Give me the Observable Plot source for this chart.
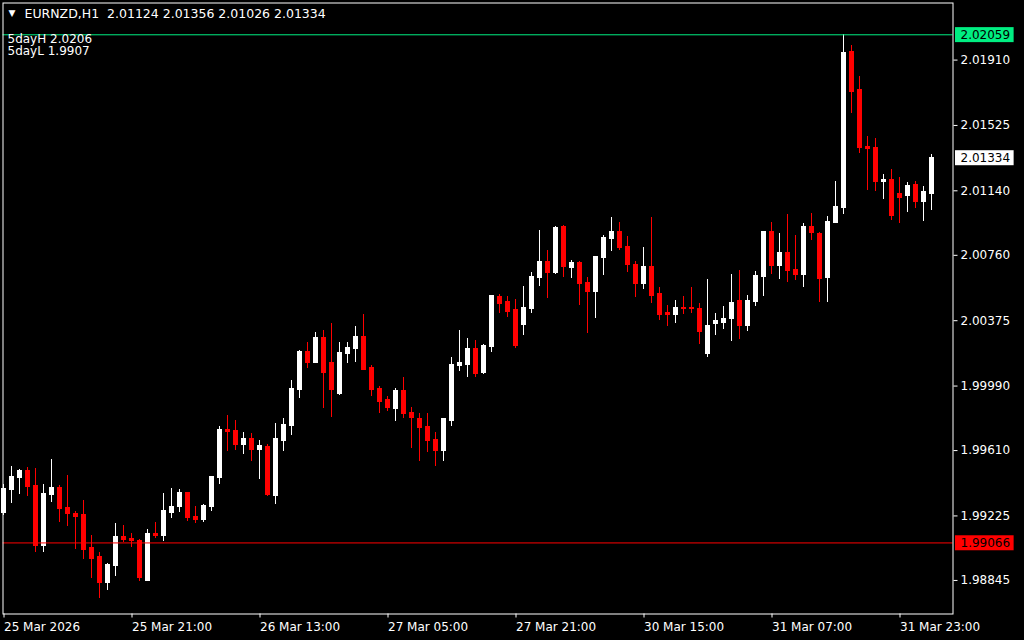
<!DOCTYPE html>
<html><head><meta charset="utf-8">
<script src="https://cdn.jsdelivr.net/npm/d3@7"></script>
<script src="https://cdn.jsdelivr.net/npm/@observablehq/plot@0.6"></script>
<style>html,body{margin:0;padding:0;background:#000;overflow:hidden}</style>
</head><body><div id="chart"></div>
<script>
const symbol = "EURNZD";
const timeframe = "H1";

const opens = [
1.99242,1.99378,1.99448,1.99490,1.99401,1.99048,1.99348,1.99390,1.99272,1.99236,
1.99231,1.99036,1.98983,1.98830,1.98930,1.99101,1.99089,1.99077,1.98842,1.99119,
1.99107,1.99242,1.99278,1.99360,1.99219,1.99201,1.99278,1.99448,1.99731,1.99725,
1.99643,1.99678,1.99613,1.99631,1.99342,1.99666,1.99755,1.99967,2.00191,2.00126,
2.00273,2.00126,1.99943,2.00179,2.00208,2.00279,2.00097,1.99973,1.99908,1.99855,
1.99961,1.99831,1.99796,1.99749,1.99672,1.99607,1.99784,2.00108,2.00114,2.00208,
2.00067,2.00220,2.00514,2.00485,2.00438,2.00350,2.00444,2.00626,2.00720,2.00656,
2.00927,2.00685,2.00714,2.00597,2.00544,2.00744,2.00856,2.00897,2.00809,2.00703,
2.00591,2.00691,2.00532,2.00420,2.00409,2.00450,2.00450,2.00444,2.00179,2.00356,
2.00361,2.00385,2.00491,2.00344,2.00485,2.00632,2.00897,2.00697,2.00774,2.00673,
2.00644,2.00927,2.00886,2.00626,2.00950,2.01039,2.01958,2.01734,2.01398,2.01392,
2.01192,2.01204,2.01121,2.01110,2.01174,2.01074,2.01124];
const highs = [
1.99413,1.99519,1.99496,1.99513,1.99507,1.99413,1.99560,1.99407,1.99466,1.99254,
1.99313,1.99107,1.99007,1.98942,1.99183,1.99166,1.99124,1.99089,1.99148,1.99189,
1.99360,1.99384,1.99378,1.99360,1.99278,1.99295,1.99460,1.99749,1.99814,1.99790,
1.99719,1.99713,1.99672,1.99643,1.99772,1.99796,2.00020,2.00202,2.00244,2.00308,
2.00320,2.00361,2.00244,2.00244,2.00338,2.00409,2.00114,1.99990,1.99931,1.99973,
2.00043,1.99861,1.99831,1.99831,1.99719,1.99796,2.00161,2.00320,2.00273,2.00261,
2.00232,2.00525,2.00532,2.00520,2.00497,2.00579,2.00656,2.00909,2.00791,2.00927,
2.00933,2.00732,2.00726,2.00632,2.00756,2.00874,2.00980,2.00956,2.00868,2.00726,
2.00809,2.00980,2.00573,2.00467,2.00491,2.00520,2.00573,2.00479,2.00620,2.00420,
2.00456,2.00650,2.00673,2.00526,2.00667,2.00903,2.00956,2.00886,2.01003,2.00874,
2.00945,2.01009,2.00897,2.00986,2.01192,2.02059,2.01993,2.01816,2.01457,2.01451,
2.01239,2.01268,2.01216,2.01186,2.01192,2.01163,2.01356];
const lows = [
1.99225,1.99301,1.99354,1.99342,1.99007,1.99007,1.99307,1.99189,1.99160,1.99030,
1.98971,1.98854,1.98736,1.98783,1.98866,1.99066,1.99042,1.98836,1.98836,1.99095,
1.99077,1.99207,1.99248,1.99195,1.99183,1.99189,1.99254,1.99413,1.99602,1.99613,
1.99584,1.99543,1.99442,1.99342,1.99295,1.99602,1.99696,1.99914,2.00091,2.00120,
1.99855,1.99802,1.99937,2.00120,2.00126,2.00080,1.99931,1.99831,1.99843,1.99784,
1.99796,1.99625,1.99548,1.99596,1.99519,1.99548,1.99749,2.00073,2.00043,2.00038,
2.00061,2.00185,2.00420,2.00391,2.00214,2.00285,2.00420,2.00579,2.00503,2.00650,
2.00632,2.00626,2.00462,2.00297,2.00386,2.00644,2.00785,2.00791,2.00656,2.00514,
2.00556,2.00479,2.00379,2.00338,2.00356,2.00409,2.00420,2.00232,2.00161,2.00285,
2.00326,2.00250,2.00267,2.00314,2.00456,2.00520,2.00650,2.00615,2.00597,2.00609,
2.00573,2.00850,2.00485,2.00485,2.00945,2.00998,2.01598,2.01357,2.01139,2.01133,
2.01086,2.00968,2.00945,2.01015,2.01033,2.00962,2.01026];
const closes = [
1.99384,1.99454,1.99490,1.99395,1.99048,1.99354,1.99390,1.99266,1.99236,1.99219,
1.99024,1.98971,1.98830,1.98936,1.99101,1.99083,1.99077,1.98860,1.99119,1.99107,
1.99254,1.99278,1.99360,1.99213,1.99201,1.99284,1.99454,1.99731,1.99719,1.99643,
1.99678,1.99613,1.99637,1.99348,1.99678,1.99761,1.99973,2.00191,2.00126,2.00273,
2.00067,1.99967,2.00185,2.00214,2.00279,2.00085,1.99967,1.99896,1.99861,1.99961,
1.99825,1.99802,1.99743,1.99666,1.99607,1.99796,2.00114,2.00126,2.00208,2.00061,
2.00226,2.00520,2.00473,2.00426,2.00226,2.00450,2.00632,2.00720,2.00656,2.00921,
2.00691,2.00714,2.00591,2.00544,2.00750,2.00862,2.00897,2.00803,2.00703,2.00591,
2.00691,2.00520,2.00409,2.00409,2.00450,2.00444,2.00444,2.00308,2.00344,2.00373,
2.00385,2.00479,2.00344,2.00491,2.00638,2.00897,2.00697,2.00774,2.00667,2.00644,
2.00927,2.00891,2.00620,2.00956,2.01045,2.01952,2.01722,2.01392,2.01386,2.01192,
2.01204,2.00992,2.01098,2.01169,2.01074,2.01133,2.01334];

const tickBars = [0, 16, 32, 48, 64, 80, 96, 112];
const tickLabels = ["25 Mar 2026","25 Mar 21:00","26 Mar 13:00","27 Mar 05:00","27 Mar 21:00","30 Mar 15:00","31 Mar 07:00","31 Mar 23:00"];
const priceTicks = [2.01910, 2.01525, 2.01140, 2.00760, 2.00375, 1.99990, 1.99610, 1.99225, 1.98845];
const fiveDayHigh = 2.02059;
const fiveDayLow = 1.99066;

const UP = "#ffffff", DOWN = "#ff0000", HIC = "#00ee82";
const candles = opens.map((o, i) => ({i, o, h: highs[i], l: lows[i], c: closes[i]}));
const last = candles[candles.length - 1];
const colorOf = d => d.c >= d.o ? UP : DOWN;
const markers = [
  {value: fiveDayHigh, bg: HIC, fg: "#000"},
  {value: last.c, bg: "#ffffff", fg: "#000"},
  {value: fiveDayLow, bg: DOWN, fg: "#000"}
];
const f5 = v => v.toFixed(5);
const header = `${symbol},${timeframe}\u00a0\u00a0${f5(last.o)} ${f5(last.h)} ${f5(last.l)} ${f5(last.c)}`;
const fiveDayText = `5dayH ${fiveDayHigh.toFixed(4)}\n5dayL ${fiveDayLow.toFixed(4)}`;

const chart = Plot.plot({
  width: 1024, height: 640,
  marginLeft: 2.5, marginRight: 71.5, marginTop: 2.5, marginBottom: 26.5,
  style: {background: "#000", color: "#fff", fontFamily: "DejaVu Sans", fontSize: "12px"},
  x: {type: "linear", domain: [-0.125, 118.625], axis: null, label: null},
  y: {type: "linear", domain: [1.986474, 2.022462], axis: null, label: null},
  marks: [
    Plot.ruleX(candles, {x: "i", y1: "l", y2: "h", stroke: colorOf, strokeWidth: 1, dx: -0.5,
      shapeRendering: "crispEdges"}),
    Plot.rect(candles, {x1: d => d.i - 0.3125, x2: d => d.i + 0.3125, y1: "o", y2: "c",
      fill: colorOf, insetTop: -0.5, insetBottom: -0.5, shapeRendering: "crispEdges"}),
    Plot.ruleY([fiveDayHigh], {stroke: HIC}),
    Plot.ruleY([fiveDayLow], {stroke: DOWN}),
    Plot.frame({stroke: "#fff"}),
    Plot.axisY(priceTicks, {anchor: "right", label: null, tickSize: 4, tickPadding: 3.5, tickFormat: f5}),
    Plot.axisX(tickBars, {anchor: "bottom", label: null, tickSize: 4, tickPadding: 4.5, textAnchor: "start",
      tickFormat: d => tickLabels[tickBars.indexOf(d)]}),
    Plot.text(markers, {y: "value", text: d => f5(d.value), frameAnchor: "right", dx: 7.5,
      textAnchor: "start", fill: d => d.fg}),
    Plot.text(["\u25bc"], {frameAnchor: "top-left", dx: 5.5, dy: 7, fontSize: 9, fill: "#fff"}),
    Plot.text([header], {frameAnchor: "top-left", dx: 21.5, dy: 6.5, fontSize: 12.5, fill: "#fff"}),
    Plot.text([fiveDayText], {frameAnchor: "top-left", dx: 4.5, dy: 31.5, lineHeight: 1, fill: "#fff"})
  ]
});
document.getElementById("chart").appendChild(chart);

// background boxes behind the highlighted price labels
const svgSel = d3.select(chart.tagName === "svg" ? chart : chart.querySelector("svg"));
markers.forEach(m => {
  const s = f5(m.value);
  svgSel.selectAll("text").filter(function() { return this.textContent === s; }).each(function() {
    const b = this.getBBox();
    const r = document.createElementNS("http://www.w3.org/2000/svg", "rect");
    r.setAttribute("x", b.x - 5.5);
    r.setAttribute("y", b.y - 0.5);
    r.setAttribute("width", b.width + 9);
    r.setAttribute("height", b.height + 1);
    r.setAttribute("fill", m.bg);
    const t = this.getAttribute("transform");
    if (t) r.setAttribute("transform", t);
    this.parentNode.insertBefore(r, this);
  });
});
</script></body></html>
